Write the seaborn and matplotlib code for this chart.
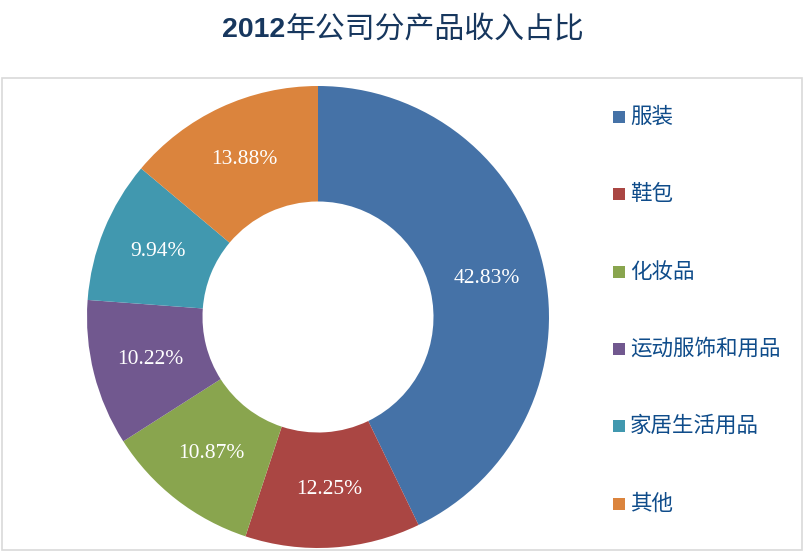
import matplotlib
matplotlib.use("Agg")
import matplotlib.pyplot as plt
import seaborn as sns
from matplotlib.patches import Rectangle

categories = ["服装", "鞋包", "化妆品", "运动服饰和用品", "家居生活用品", "其他"]
shares = [42.83, 12.25, 10.87, 10.22, 9.94, 13.88]
colors = ["#4572A7", "#AA4643", "#89A54E", "#71588F", "#4198AF", "#DB843D"]
title_year = "2012"
title_rest = "年公司分产品收入占比"

sns.set_theme(style="white")
plt.rcParams['font.family'] = ['Noto Sans CJK SC', 'DejaVu Sans']
palette = sns.color_palette(colors)

W, H = 804, 552
fig = plt.figure(figsize=(W / 100, H / 100), dpi=100)
fig.patch.set_facecolor("white")

# border box
fig.patches.append(Rectangle((2 / W, 1 - 550 / H), 800 / W, 472 / H,
                             transform=fig.transFigure, fill=False,
                             edgecolor="#D9D9D9", linewidth=1.2))

# title
fig.text(285 / W, 1 - 30 / H, title_year, ha="right", va="center",
         fontsize=20.5, fontweight="bold", color="#17375E",
         family=["Liberation Sans", "DejaVu Sans"])
fig.text(286 / W, 1 - 30 / H, title_rest, ha="left", va="center",
         fontsize=21.5, color="#17375E",
         family=["Noto Sans CJK SC", "DejaVu Sans"])

# donut
cx, cy, r = 318, 317, 231
ax = fig.add_axes([(cx - r) / W, 1 - (cy + r) / H, 2 * r / W, 2 * r / H])
wedges, texts, autotexts = ax.pie(
    shares, colors=palette, startangle=90, counterclock=False,
    radius=1.0, wedgeprops=dict(width=0.5, edgecolor="none"),
    autopct=lambda p: f"{p:.2f}%", pctdistance=0.75,
    textprops=dict(color="white", fontsize=15.5,
                   family=["Liberation Serif", "DejaVu Serif"]))
ax.set_xlim(-1, 1)
ax.set_ylim(-1, 1)
ax.set_aspect("equal")
ax.axis("off")

# legend
leg_y = [117, 194, 272, 349, 426, 504]
for name, col, y in zip(categories, palette, leg_y):
    fig.patches.append(Rectangle((613 / W, 1 - (y + 6) / H), 12 / W, 12 / H,
                                 transform=fig.transFigure, facecolor=col,
                                 edgecolor="none"))
    fig.text(630 / W, 1 - y / H, name, ha="left", va="center",
             fontsize=15.5, color="#0F4C8A",
             family=["Noto Sans CJK SC", "DejaVu Sans"])

fig.savefig("out.png", dpi=100, facecolor="white")
